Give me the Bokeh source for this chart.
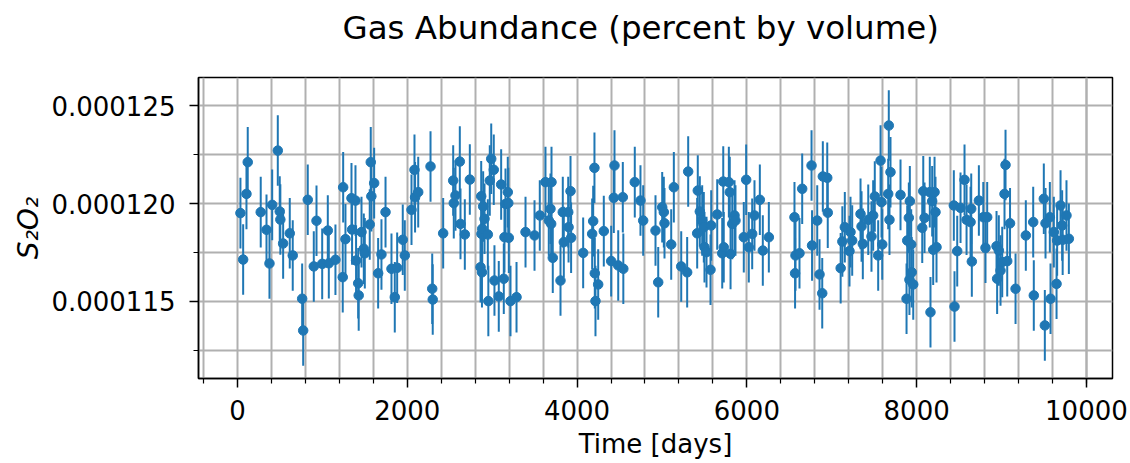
from bokeh.plotting import figure
from bokeh.models import ColumnDataSource, FixedTicker, PrintfTickFormatter, Range1d, Title
from bokeh.embed import file_html
from bokeh.resources import INLINE

days = [35, 67, 106, 121, 274, 342, 377, 409, 475, 498, 505, 538, 616, 651, 762, 774, 828, 899, 931, 998,
        1064, 1076, 1154, 1240, 1245, 1272, 1343, 1350, 1390, 1397, 1422, 1428, 1461, 1488, 1500, 1558, 1570,
        1577, 1610, 1657, 1696, 1744, 1814, 1853, 1881, 1947, 1971, 2050, 2085, 2092, 2129, 2274, 2294, 2300,
        2423, 2541, 2548, 2568, 2619, 2627, 2678, 2737, 2863, 2871, 2874, 2880, 2883, 2894, 2910, 2949, 2955,
        2972, 2989, 3019, 3027, 3078, 3106, 3137, 3145, 3157, 3184, 3190, 3196, 3216, 3287, 3393, 3499, 3561,
        3628, 3667, 3687, 3695, 3699, 3714, 3805, 3832, 3844, 3896, 3900, 3923, 3930, 4072, 4178, 4190, 4205,
        4209, 4217, 4249, 4315, 4402, 4433, 4441, 4485, 4539, 4545, 4680, 4747, 4779, 4924, 4956, 5003, 5022,
        5030, 5109, 5140, 5227, 5297, 5309, 5415, 5422, 5446, 5474, 5493, 5501, 5525, 5572, 5580, 5651, 5710,
        5722, 5728, 5788, 5799, 5808, 5828, 5855, 5866, 5964, 5992, 6023, 6063, 6090, 6153, 6188, 6259, 6561,
        6568, 6573, 6620, 6652, 6762, 6768, 6829, 6856, 6888, 6895, 6947, 6953, 7105, 7125, 7154, 7209, 7221,
        7241, 7339, 7351, 7366, 7430, 7468, 7488, 7507, 7547, 7575, 7586, 7595, 7665, 7672, 7680, 7692, 7810,
        7881, 7889, 7908, 7915, 7920, 7936, 7942, 7960, 8066, 8078, 8093, 8155, 8163, 8183, 8195, 8211, 8222,
        8234, 8438, 8446, 8478, 8517, 8564, 8588, 8635, 8643, 8650, 8733, 8785, 8811, 8831, 8941, 8948, 8968,
        8988, 9008, 9035, 9047, 9067, 9100, 9165, 9286, 9373, 9380, 9498, 9510, 9518, 9569, 9577, 9616, 9648,
        9655, 9695, 9714, 9720, 9765, 9793]

abundance = [119.51e-6, 117.14e-6, 120.49e-6, 122.11e-6, 119.56e-6, 118.66e-6, 116.94e-6, 119.93e-6, 122.70e-6,
             119.59e-6, 119.18e-6, 117.96e-6, 118.48e-6, 117.35e-6, 115.14e-6, 113.52e-6, 120.19e-6, 116.79e-6,
             119.12e-6, 116.92e-6, 118.62e-6, 116.95e-6, 117.13e-6, 116.24e-6, 120.83e-6, 118.18e-6, 120.27e-6,
             118.67e-6, 120.15e-6, 117.09e-6, 115.93e-6, 115.31e-6, 118.54e-6, 117.69e-6, 117.46e-6, 118.93e-6,
             122.11e-6, 120.37e-6, 121.04e-6, 116.44e-6, 117.40e-6, 119.56e-6, 116.67e-6, 115.22e-6, 116.72e-6,
             118.15e-6, 117.35e-6, 119.68e-6, 121.72e-6, 120.32e-6, 120.58e-6, 121.89e-6, 115.65e-6, 115.10e-6,
             118.48e-6, 121.17e-6, 120.02e-6, 120.41e-6, 122.14e-6, 118.96e-6, 118.42e-6, 121.22e-6, 116.75e-6,
             120.37e-6, 118.45e-6, 116.49e-6, 118.71e-6, 119.85e-6, 119.22e-6, 118.42e-6, 115.02e-6, 121.17e-6,
             122.28e-6, 121.72e-6, 116.07e-6, 115.26e-6, 120.97e-6, 116.16e-6, 118.28e-6, 119.98e-6, 120.58e-6,
             120.02e-6, 118.25e-6, 115.02e-6, 115.22e-6, 118.54e-6, 118.37e-6, 119.39e-6, 121.09e-6, 119.13e-6,
             119.73e-6, 118.96e-6, 121.09e-6, 117.23e-6, 116.07e-6, 119.56e-6, 118.03e-6, 119.56e-6, 118.79e-6,
             120.63e-6, 118.25e-6, 117.48e-6, 118.45e-6, 119.10e-6, 121.82e-6, 116.44e-6, 115.02e-6, 115.87e-6,
             118.59e-6, 117.06e-6, 120.29e-6, 121.94e-6, 116.84e-6, 120.32e-6, 116.67e-6, 121.09e-6, 120.15e-6,
             119.13e-6, 118.62e-6, 115.98e-6, 119.81e-6, 119.56e-6, 118.99e-6, 117.91e-6, 120.83e-6, 116.79e-6,
             116.49e-6, 121.63e-6, 118.48e-6, 120.66e-6, 119.59e-6, 119.13e-6, 118.79e-6, 117.77e-6, 117.52e-6,
             116.62e-6, 118.88e-6, 119.44e-6, 117.46e-6, 121.12e-6, 117.77e-6, 121.09e-6, 120.58e-6, 117.43e-6,
             118.96e-6, 119.39e-6, 119.13e-6, 118.28e-6, 121.21e-6, 117.77e-6, 118.45e-6, 119.39e-6, 120.19e-6,
             117.60e-6, 118.28e-6, 119.30e-6, 116.44e-6, 117.35e-6, 117.46e-6, 120.75e-6, 121.94e-6, 117.86e-6,
             119.13e-6, 116.38e-6, 115.42e-6, 121.38e-6, 121.31e-6, 119.53e-6, 116.70e-6, 118.06e-6, 118.79e-6,
             117.57e-6, 118.54e-6, 118.11e-6, 119.47e-6, 118.83e-6, 117.94e-6, 119.17e-6, 118.32e-6, 119.39e-6,
             120.36e-6, 117.35e-6, 122.19e-6, 120.07e-6, 117.91e-6, 120.49e-6, 123.98e-6, 119.17e-6, 121.60e-6,
             120.44e-6, 115.14e-6, 118.11e-6, 119.27e-6, 116.11e-6, 120.12e-6, 117.91e-6, 116.49e-6, 115.87e-6,
             118.76e-6, 120.63e-6, 119.27e-6, 120.58e-6, 114.45e-6, 120.12e-6, 117.64e-6, 120.58e-6, 119.56e-6,
             117.77e-6, 119.90e-6, 114.74e-6, 117.57e-6, 119.78e-6, 121.21e-6, 119.17e-6, 119.05e-6, 119.73e-6,
             117.04e-6, 120.15e-6, 119.30e-6, 117.74e-6, 119.30e-6, 117.82e-6, 116.16e-6, 117.60e-6, 116.58e-6,
             117.01e-6, 120.49e-6, 121.97e-6, 117.06e-6, 118.99e-6, 115.65e-6, 118.37e-6, 119.05e-6, 115.31e-6,
             120.24e-6, 113.78e-6, 118.99e-6, 119.30e-6, 115.14e-6, 118.54e-6, 115.90e-6, 118.11e-6, 119.90e-6,
             118.88e-6, 118.15e-6, 119.39e-6, 118.20e-6]

error = 1.8e-6

x_ticks = [0, 2000, 4000, 6000, 8000, 10000]
x_minor = [-400, 400, 800, 1200, 1600, 2400, 2800, 3200, 3600, 4400, 4800, 5200, 5600,
           6400, 6800, 7200, 7600, 8400, 8800, 9200, 9600, 10000, 10400]
y_ticks = [115e-6, 120e-6, 125e-6]
y_minor = [112.5e-6, 117.5e-6, 122.5e-6]

COLOR = "#1f77b4"
FONT = "DejaVu Sans"

src = ColumnDataSource(dict(
    x=days,
    y=abundance,
    lo=[v - error for v in abundance],
    hi=[v + error for v in abundance],
))

p = figure(width=1130, height=463, output_backend="svg", toolbar_location=None,
           x_range=Range1d(-459, 10307), y_range=Range1d(111.07e-6, 126.43e-6),
           min_border_left=198, min_border_right=18, min_border_top=77, min_border_bottom=85)

# spacer between the frame and the title
p.add_layout(Title(text=" ", text_font_size="1px", standoff=18), "above")

p.title.text = "Gas Abundance (percent by volume)"
p.title.text_font = FONT
p.title.text_font_size = "32.5px"
p.title.text_font_style = "normal"
p.title.text_color = "black"
p.title.align = "left"
p.title.offset = 144
p.title.vertical_align = "top"
p.title.standoff = 16

p.segment(x0="x", y0="lo", x1="x", y1="hi", source=src, line_color=COLOR, line_width=2)
p.scatter(x="x", y="y", source=src, size=9.5, fill_color=COLOR, line_color=COLOR)

for ax in (p.xaxis[0], p.yaxis[0]):
    ax.axis_line_color = "black"
    ax.axis_line_width = 1.5
    ax.major_tick_line_color = "black"
    ax.minor_tick_line_color = "black"
    ax.major_tick_line_width = 1.5
    ax.minor_tick_line_width = 1.2
    ax.major_tick_in = 0
    ax.major_tick_out = 9
    ax.minor_tick_in = 0
    ax.minor_tick_out = 5
    ax.major_label_text_font = FONT
    ax.major_label_text_font_size = "26px"
    ax.major_label_text_color = "black"
    ax.axis_label_text_font = FONT
    ax.axis_label_text_font_size = "26px"
    ax.axis_label_text_color = "black"

p.xaxis.major_label_standoff = 12
p.yaxis.major_label_standoff = 14
p.xaxis.ticker = FixedTicker(ticks=x_ticks, minor_ticks=x_minor)
p.yaxis.ticker = FixedTicker(ticks=y_ticks, minor_ticks=y_minor)
p.yaxis.formatter = PrintfTickFormatter(format="%.6f")
p.xaxis.axis_label = "Time [days]"
p.xaxis.axis_label_text_font_style = "normal"
p.xaxis.axis_label_standoff = 6
p.yaxis.axis_label = "S₂O₂"
p.yaxis.axis_label_text_font_style = "italic"
p.yaxis.axis_label_text_font_size = "28px"
p.yaxis.axis_label_standoff = 3

for g in (p.xgrid[0], p.ygrid[0]):
    g.grid_line_color = "#b0b0b0"
    g.grid_line_width = 2
    g.minor_grid_line_color = "#b0b0b0"
    g.minor_grid_line_width = 2

p.outline_line_color = "black"
p.outline_line_width = 1.5
p.background_fill_color = "white"
p.border_fill_color = "white"

open("out.html", "w").write(file_html(p, INLINE))
